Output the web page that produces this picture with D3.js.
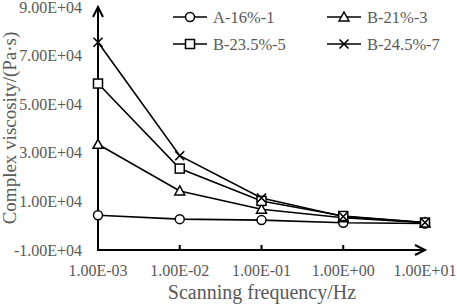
<!DOCTYPE html>
<html><head><meta charset="utf-8">
<script src="https://cdn.jsdelivr.net/npm/d3@7"></script>
<style>body{margin:0;background:#fff}svg{display:block}</style>
</head><body>
<script>
const freqs = [1e-3, 1e-2, 1e-1, 1e0, 1e1];
const xTickLabels = ["1.00E-03","1.00E-02","1.00E-01","1.00E+00","1.00E+01"];
const yTicks = [-10000, 10000, 30000, 50000, 70000, 90000];
const yTickLabels = ["-1.00E+04","1.00E+04","3.00E+04","5.00E+04","7.00E+04","9.00E+04"];
const seriesNames = ["A-16%-1","B-21%-3","B-23.5%-5","B-24.5%-7"];
const seriesMarkers = ["circle","triangle","square","cross"];
const valsA = [4300, 2700, 2300, 1200, 900];
const valsB21 = [33500, 14300, 6800, 3300, 1200];
const valsB235 = [58500, 23500, 10200, 4000, 1300];
const valsB245 = [75500, 28800, 11400, 3800, 1300];
const seriesValues = [valsA, valsB21, valsB235, valsB245];

const W = 457, H = 304;
const svg = d3.select("body").append("svg").attr("width", W).attr("height", H);
const x = d3.scaleLog().domain([1e-3, 1e1]).range([98, 425]);
const y = d3.scaleLinear().domain([-10000, 90000]).range([250, 7]);
const grey = "#595959";
const font = "'Liberation Serif','Times New Roman',serif";

// series lines
const line = d3.line().x((d,i)=>x(freqs[i])).y(d=>y(d));
seriesValues.forEach(vals=>{
  svg.append("path").datum(vals).attr("d", line)
    .attr("fill","none").attr("stroke","#000").attr("stroke-width",1.6);
});

function marker(g, type, cx, cy){
  const s = 4.5;
  if(type==="circle"){
    g.append("circle").attr("cx",cx).attr("cy",cy).attr("r",4.5)
      .attr("fill","#fff").attr("stroke","#000").attr("stroke-width",1.5);
  } else if(type==="triangle"){
    g.append("path").attr("d",`M${cx},${cy-5}L${cx+5},${cy+4}L${cx-5},${cy+4}Z`)
      .attr("fill","#fff").attr("stroke","#000").attr("stroke-width",1.5);
  } else if(type==="square"){
    g.append("rect").attr("x",cx-s).attr("y",cy-s).attr("width",2*s).attr("height",2*s)
      .attr("fill","#fff").attr("stroke","#000").attr("stroke-width",1.5);
  } else {
    g.append("path").attr("d",`M${cx-s},${cy-s}L${cx+s},${cy+s}M${cx-s},${cy+s}L${cx+s},${cy-s}`)
      .attr("fill","none").attr("stroke","#000").attr("stroke-width",1.6);
  }
}

// axes
const ax = svg.append("g").attr("stroke","#000").attr("stroke-width",2).attr("fill","none");
ax.append("line").attr("x1",x.range()[0]).attr("x2",x.range()[0]).attr("y1",y.range()[0]+1).attr("y2",y.range()[1]);
ax.append("line").attr("x1",x.range()[0]-1).attr("x2",x.range()[1]).attr("y1",y.range()[0]).attr("y2",y.range()[0]);
ax.append("path").attr("d",`M${x.range()[0]-5},${y.range()[1]+10}L${x.range()[0]},${y.range()[1]}L${x.range()[0]+5},${y.range()[1]+10}`);
ax.append("path").attr("d",`M${x.range()[1]-10},${y.range()[0]-5}L${x.range()[1]},${y.range()[0]}L${x.range()[1]-10},${y.range()[0]+5}`);
freqs.slice(1,4).forEach(f=>{
  ax.append("line").attr("x1",x(f)).attr("x2",x(f)).attr("y1",y.range()[0]).attr("y2",y.range()[0]-5);
});

// markers
seriesValues.forEach((vals,si)=>{
  const g = svg.append("g");
  vals.forEach((v,i)=>marker(g, seriesMarkers[si], x(freqs[i]), y(v)));
});

// tick labels
svg.append("g").selectAll("text").data(freqs).join("text")
  .attr("x",d=>x(d)).attr("y",276).attr("text-anchor","middle")
  .attr("font-family",font).attr("font-size",16).attr("fill",grey)
  .text((d,i)=>xTickLabels[i]);
svg.append("g").selectAll("text").data(yTicks).join("text")
  .attr("x",82).attr("y",d=>Math.max(y(d)+5.5, 13)).attr("text-anchor","end")
  .attr("font-family",font).attr("font-size",16).attr("fill",grey)
  .text((d,i)=>yTickLabels[i]);

// titles
svg.append("text").attr("x",262).attr("y",299).attr("text-anchor","middle")
  .attr("font-family",font).attr("font-size",20).attr("fill",grey).text("Scanning frequency/Hz");
svg.append("text").attr("transform","translate(16,128) rotate(-90)").attr("text-anchor","middle")
  .attr("font-family",font).attr("font-size",19).attr("fill",grey).text("Complex viscosity/(Pa·s)");

// legend
const legPos = [[173,17],[327,17],[173,44],[327,44]];
seriesNames.forEach((name,i)=>{
  const [lx,ly] = legPos[i];
  const g = svg.append("g");
  g.append("line").attr("x1",lx).attr("x2",lx+34).attr("y1",ly).attr("y2",ly)
    .attr("stroke","#000").attr("stroke-width",1.6);
  marker(g, seriesMarkers[i], lx+17, ly);
  g.append("text").attr("x",lx+40).attr("y",ly+5.5)
    .attr("font-family",font).attr("font-size",16.5).attr("fill",grey).text(name);
});
</script>
</body></html>
